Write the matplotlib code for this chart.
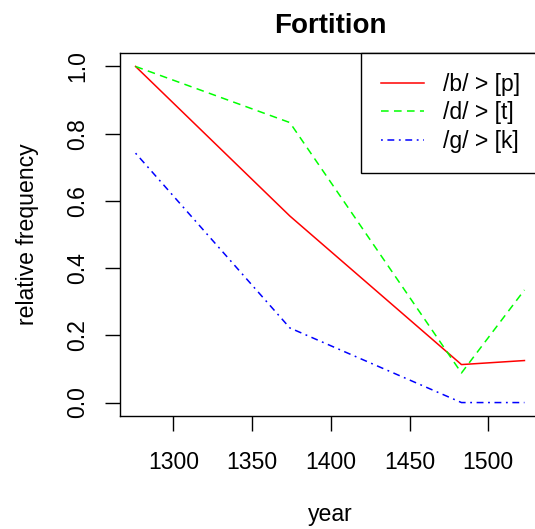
import matplotlib
matplotlib.use("Agg")
import matplotlib.pyplot as plt

plt.rcParams['font.family'] = ['Liberation Sans', 'DejaVu Sans']

# data
years = [1276, 1374, 1483, 1523]
b_p = [1.0, 0.555, 0.113, 0.125]
d_t = [1.0, 0.833, 0.088, 0.335]
g_k = [0.742, 0.222, 0.0, 0.0]
labels = ['/b/ > [p]', '/d/ > [t]', '/g/ > [k]']
xticks = [1300, 1350, 1400, 1450, 1500]
yticks = [0.0, 0.2, 0.4, 0.6, 0.8, 1.0]

W, H = 535, 529
fig = plt.figure(figsize=(W / 100, H / 100), dpi=100)
ax = fig.add_axes([120 / W, 1 - 416 / H, 420 / W, 363 / H])

ax.plot(years, b_p, color='#ff0000', lw=1.1, label=labels[0])
ax.plot(years, d_t, color='#00ff00', lw=1.1, dashes=(5, 3.5), label=labels[1])
ax.plot(years, g_k, color='#0000ff', lw=1.1, dashes=(1.2, 3, 4.5, 3), label=labels[2])

# R style 4% padding
xr = max(years) - min(years)
ax.set_xlim(min(years) - 0.04 * xr, max(years) + 0.04 * xr)
ax.set_ylim(-0.04, 1.04)

fs = 16.6
ax.set_xticks(xticks)
ax.set_yticks(yticks)
ax.set_yticklabels([f'{v:.1f}' for v in yticks], rotation=90, va='center')
ax.tick_params(direction='out', length=10.5, width=1.0, labelsize=fs, colors='black')
ax.tick_params(axis='x', pad=14.5)
ax.tick_params(axis='y', pad=11.5)
for s in ax.spines.values():
    s.set_linewidth(1.0)

ax.set_title('Fortition', fontsize=20, fontweight='bold', pad=14.4)
ax.set_xlabel('year', fontsize=fs, va='center')
ax.xaxis.set_label_coords(0.5, (416 - 514) / 363)
ax.set_ylabel('relative frequency', fontsize=fs, va='center')
ax.yaxis.set_label_coords((27 - 120) / 420, 0.5)

leg = ax.legend(loc='upper right', bbox_to_anchor=(1, 1), borderaxespad=0,
                fontsize=fs, fancybox=False, framealpha=1, edgecolor='black',
                handlelength=1.85, handletextpad=0.85, labelspacing=0.25, borderpad=0.85)
leg.get_frame().set_linewidth(1.0)

fig.savefig('out.png', dpi=100)
